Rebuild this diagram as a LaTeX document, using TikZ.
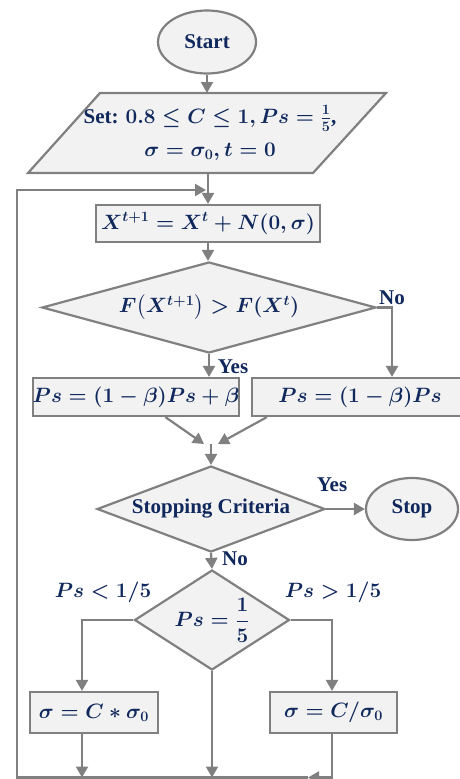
\documentclass[tikz,border=0pt]{standalone}
\usepackage{amsmath}
\usepackage[no-math]{fontspec}
\setmainfont{Liberation Serif}
\usetikzlibrary{shapes.geometric,arrows.meta}
\definecolor{txt}{RGB}{16,40,92}
\definecolor{fillg}{RGB}{242,242,242}
\definecolor{lineg}{RGB}{128,128,128}
\tikzset{
  lbl/.style={text=txt, font=\fontsize{21}{25}\selectfont\bfseries\boldmath, inner sep=0pt},
  base/.style={lbl, draw=lineg, line width=2.2pt, fill=fillg},
  procbox/.style={base, rectangle},
  oval/.style={base, ellipse},
  decision/.style={base, diamond},
  conn/.style={draw=lineg, line width=2.2pt},
  arr/.style={conn, -{Triangle[length=11pt,width=12pt]}},
}
\begin{document}
\begin{tikzpicture}[x=1pt,y=-1pt]
\useasboundingbox (0,0) rectangle (460,779);
\clip (0,0) rectangle (460,779);
% shapes
\node[oval, minimum width=98pt, minimum height=63pt] (start) at (207,42) {Start};
\draw[draw=lineg, line width=2.2pt, fill=fillg] (100,93) -- (386,93) -- (313,173) -- (28,173) -- cycle;
\node[lbl, minimum height=80pt, align=center] (set) at (210,133)
  {Set: $0.8\le C\le 1, Ps=\frac{1}{5}$,\\[8pt] $\sigma=\sigma_0, t=0$};
\node[procbox, minimum width=224pt, minimum height=37pt] (box1) at (208,223.5)
  {$X^{t+1}=X^{t}+N(0,\sigma)$};
\node[decision, minimum width=334pt, minimum height=91pt, aspect=3.67] (dia1) at (209,307.5)
  {$F\bigl(X^{t+1}\bigr)>F(X^{t})$};
\node[procbox, minimum width=204pt, minimum height=38pt] (box2) at (136,397)
  {$Ps=(1-\beta)Ps+\beta$};
\node[procbox, minimum width=216pt, minimum height=38pt] (box3) at (360,397)
  {$Ps=(1-\beta)Ps$};
\node[decision, minimum width=228pt, minimum height=86pt, aspect=2.65] (dia2) at (211,509)
  {Stopping Criteria};
\node[oval, minimum width=92pt, minimum height=62pt] (stop) at (412,509) {Stop};
\node[decision, minimum width=155pt, minimum height=100pt, aspect=1.55] (dia3) at (212,620)
  {$Ps=\dfrac{1}{5}$};
\node[procbox, minimum width=128pt, minimum height=41pt] (box4) at (94,712.5)
  {$\sigma=C*\sigma_0$};
\node[procbox, minimum width=127pt, minimum height=41pt] (box5) at (333.5,712.5)
  {$\sigma=C/\sigma_0$};
% labels
\node[lbl] (nolbl1) at (392,298) {No};
\node[lbl] (yeslbl1) at (233,367) {Yes};
\node[lbl] (yeslbl2) at (332,485) {Yes};
\node[lbl] (nolbl2) at (235,559) {No};
\node[lbl] (lesslbl) at (103,592) {$Ps<1/5$};
\node[lbl] (morelbl) at (333,592) {$Ps>1/5$};
% helper coordinates
\coordinate (loopin) at (206,190);
\coordinate (bl) at (17,777.5);
\coordinate (br) at (308,777.5);
\coordinate (noturn) at (392,307.5);
\coordinate (mL) at (204,444);
\coordinate (mR) at (218,444);
\coordinate (m) at (211,444);
\coordinate (lt) at (82,620);
\coordinate (rt) at (332,620);
\coordinate (axis) at (208,0);
% connectors
\draw[arr] (start) -- (start |- 0,93);
\draw[arr] (axis |- 0,173) -- (axis |- box1.north);
\draw[arr] (br) -- (bl) -- (bl |- loopin) -- (loopin);
\draw[arr] (axis |- box1.south) -- (axis |- dia1.north);
\draw[arr] (dia1.east) -- (noturn) -- (noturn |- box3.north);
\draw[arr] (dia1.south) -- (dia1.south |- box2.north);
\draw[arr] ([xshift=-75pt]box2.south east) -- (mL);
\draw[arr] ([xshift=16pt]box3.south west) -- (mR);
\draw[arr] (m) -- (dia2.north);
\draw[arr] (dia2.east) -- (stop.west);
\draw[arr] (dia2.south) -- (dia3.north);
\draw[arr] (dia3.west) -- (lt) -- (lt |- box4.north);
\draw[arr] (dia3.east) -- (rt) -- (rt |- box5.north);
\draw[arr] (lt |- box4.south) -- (lt |- bl);
\draw[arr] (dia3.south) -- (dia3.south |- bl);
\draw[arr] (rt |- box5.south) -- (rt |- bl) -- (br);
\end{tikzpicture}
\end{document}
